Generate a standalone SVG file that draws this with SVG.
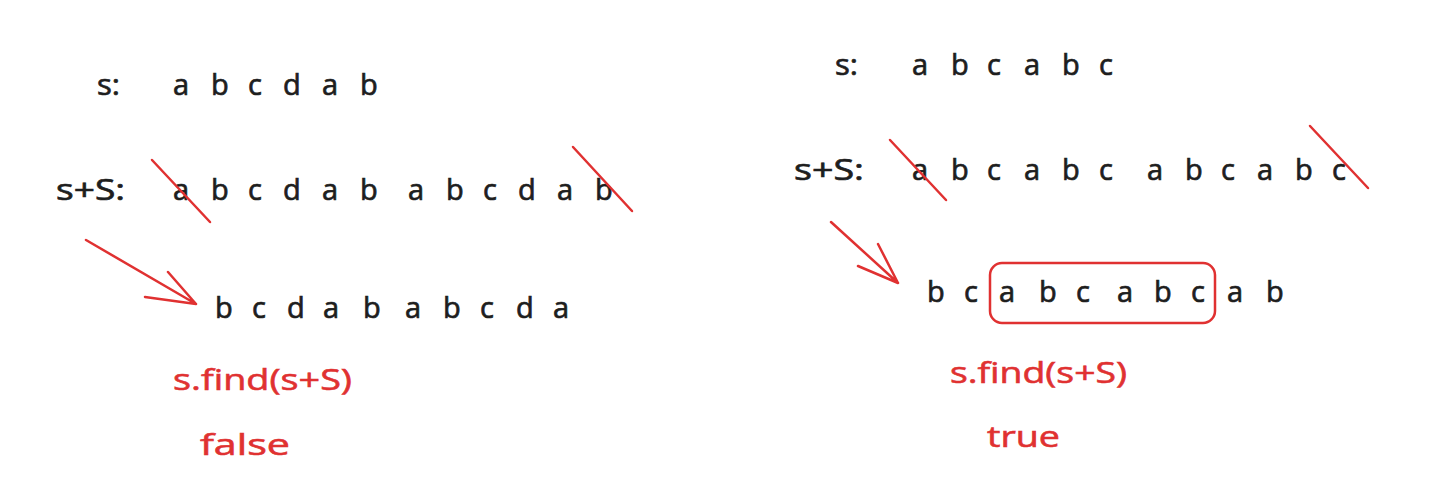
<svg xmlns="http://www.w3.org/2000/svg" width="1437" height="493" viewBox="0 0 1437 493">
<style>
.k{font-family:"Open Sans","Liberation Sans",sans-serif;font-size:29px;fill:#1e1e1e;stroke:#1e1e1e;stroke-width:0.7}
.r{font-family:"Open Sans","Liberation Sans",sans-serif;font-size:30px;fill:#e03131;stroke:#e03131;stroke-width:0.6}
.ln{stroke:#e03131;stroke-width:2.5;fill:none;stroke-linecap:round;stroke-linejoin:round}
</style>
<rect width="1437" height="493" fill="#ffffff"/>
<g id="left">
<text class="k" x="97" y="95" textLength="23" lengthAdjust="spacingAndGlyphs">s:</text>
<text class="k" x="173 211 248 283 322 360" y="95">abcdab</text>
<text class="k" x="56" y="200" textLength="69" lengthAdjust="spacingAndGlyphs">s+S:</text>
<text class="k" x="173 211 248 283 322 360 408 446 483 518 557 595" y="200">abcdababcdab</text>
<text class="k" x="215 252 287 323 363 405 443 480 516 553" y="318">bcdababcda</text>
<text class="r" x="173" y="390" textLength="179" lengthAdjust="spacingAndGlyphs">s.find(s+S)</text>
<text class="r" x="200" y="455" textLength="90" lengthAdjust="spacingAndGlyphs">false</text>
</g>
<g id="right">
<text class="k" x="835" y="75" textLength="23" lengthAdjust="spacingAndGlyphs">s:</text>
<text class="k" x="912 951 987 1024 1062 1099" y="75">abcabc</text>
<text class="k" x="794" y="180" textLength="70" lengthAdjust="spacingAndGlyphs">s+S:</text>
<text class="k" x="912 951 987 1024 1062 1099 1147 1185 1221 1257 1295 1332" y="180">abcabcabcabc</text>
<text class="k" x="927 964 999 1039 1076 1117 1154 1191 1227 1266" y="302">bcabcabcab</text>
<rect x="990" y="263" width="225" height="60" rx="12" class="ln"/>
<text class="r" x="950" y="383" textLength="177" lengthAdjust="spacingAndGlyphs">s.find(s+S)</text>
<text class="r" x="987" y="447" textLength="73" lengthAdjust="spacingAndGlyphs">true</text>
</g>
<g id="connectors">
<path class="ln" d="M152 160 L210 222"/>
<path class="ln" d="M573 147 L632 211"/>
<path class="ln" d="M86 240 L196 304 M168 272 L196 304 M145 297 L196 304"/>
<path class="ln" d="M890 140 L946 200"/>
<path class="ln" d="M1310 126 L1368 188"/>
<path class="ln" d="M831 222 L898 283 M878 244 L898 283 M858 266 L898 283"/>
</g>
</svg>
